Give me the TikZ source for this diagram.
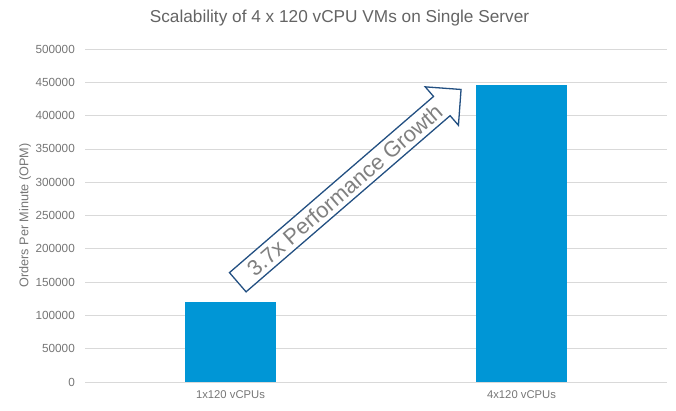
\documentclass[tikz,border=0pt]{standalone}
\usepackage{fontspec}
\setmainfont{Liberation Sans}
\usetikzlibrary{shapes.arrows}
\definecolor{barblue}{RGB}{0,150,214}
\definecolor{gridgray}{RGB}{217,217,217}
\definecolor{tickgray}{RGB}{118,118,118}
\definecolor{titlegray}{RGB}{100,100,100}
\definecolor{arrowblue}{RGB}{35,80,130}
\definecolor{arrowtext}{RGB}{128,128,128}
\tikzset{
	gridline/.style={draw=gridgray, line width=0.8bp},
	ticklabel/.style={anchor=east, inner sep=0pt, text=tickgray, font=\fontsize{11.8}{12}\selectfont},
	catlabel/.style={inner sep=0pt, text=tickgray, font=\fontsize{11.3}{12}\selectfont},
	bar/.style={fill=barblue},
	growtharrow/.style={single arrow, draw=arrowblue, line width=1.3bp, fill=white,
		single arrow head extend=12.7bp, single arrow tip angle=90, single arrow head indent=0pt,
		inner xsep=2bp, inner ysep=4bp, text=arrowtext, font=\fontsize{22}{22}\selectfont},
}
\begin{document}
\begin{tikzpicture}[x=1bp, y=1bp]
	\useasboundingbox (0,0) rectangle (676,410);
	\node[text=titlegray, font=\fontsize{17.3}{18}\selectfont] (title) at (339.5,392) {Scalability of 4 x 120 vCPU VMs on Single Server};
	\node[rotate=90, text=tickgray, font=\fontsize{12.7}{13}\selectfont] (ytitle) at (25,194.5) {Orders Per Minute (OPM)};
	\foreach \v/\lab in {0/0, 1/50000, 2/100000, 3/150000, 4/200000, 5/250000, 6/300000, 7/350000, 8/400000, 9/450000, 10/500000} {
		\draw[gridline] (85,28+33.3*\v) -- (667,28+33.3*\v);
		\node[ticklabel] (tick\v) at (75,28+33.3*\v) {\lab};
	}
	\fill[bar] (185,28) rectangle (276,108);
	\fill[bar] (476,28) rectangle (567,325);
	\node[catlabel] (cat1) at (230.5,15) {1x120 vCPUs};
	\node[catlabel] (cat4) at (521.5,15) {4x120 vCPUs};
	\node[growtharrow, rotate=40.8, minimum height=295bp] (growth) at (344.6,220) {3.7x Performance Growth};
\end{tikzpicture}
\end{document}
